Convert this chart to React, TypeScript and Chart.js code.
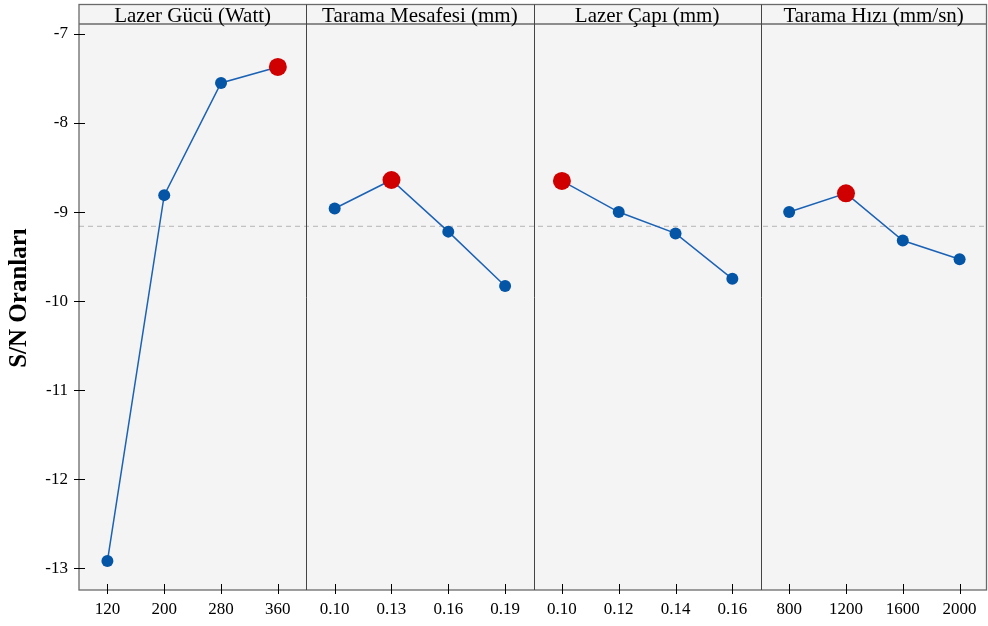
import React, { useEffect, useRef } from 'react';
import { Chart, registerables } from 'chart.js';

Chart.register(...registerables);

const panelTitles = ['Lazer Gücü (Watt)', 'Tarama Mesafesi (mm)', 'Lazer Çapı (mm)', 'Tarama Hızı (mm/sn)'];
const laserPowerLevels = ['120', '200', '280', '360'];
const scanDistanceLevels = ['0.10', '0.13', '0.16', '0.19'];
const laserDiameterLevels = ['0.10', '0.12', '0.14', '0.16'];
const scanSpeedLevels = ['800', '1200', '1600', '2000'];

const laserPowerSN = [-12.92, -8.81, -7.55, -7.37];
const scanDistanceSN = [-8.96, -8.64, -9.22, -9.83];
const laserDiameterSN = [-8.65, -9.0, -9.24, -9.75];
const scanSpeedSN = [-9.0, -8.79, -9.32, -9.53];

const overallMeanSN = -9.16;
const yMin = -13.245;
const yMax = -6.888;
const yAxisTitle = 'S/N Oranları';

const FONT = '"Liberation Serif", "Times New Roman", serif';

export default function App() {
  const ref = useRef<HTMLCanvasElement | null>(null);

  useEffect(() => {
    if (!ref.current) return;
    const levelGroups = [laserPowerLevels, scanDistanceLevels, laserDiameterLevels, scanSpeedLevels];
    const valueGroups = [laserPowerSN, scanDistanceSN, laserDiameterSN, scanSpeedSN];
    const labels = levelGroups.flat();
    const n = labels.length;

    const datasets = valueGroups.map((vals, p) => {
      const data: (number | null)[] = new Array(n).fill(null);
      vals.forEach((v, i) => (data[p * 4 + i] = v));
      const best = p * 4 + vals.indexOf(Math.max(...vals));
      return {
        label: panelTitles[p],
        data,
        borderColor: '#1b62b5',
        borderWidth: 1.5,
        spanGaps: false,
        clip: false as any,
        pointRadius: (c: any) => (c.dataIndex === best ? 9 : 6),
        pointHoverRadius: (c: any) => (c.dataIndex === best ? 9 : 6),
        pointBackgroundColor: (c: any) => (c.dataIndex === best ? '#d00000' : '#0455a5'),
        pointBorderColor: (c: any) => (c.dataIndex === best ? '#d00000' : '#0455a5'),
        pointBorderWidth: 0,
        tension: 0,
      };
    });

    const panelPlugin = {
      id: 'panels',
      beforeDatasetsDraw(chart: any) {
        const { ctx, chartArea: a, scales } = chart;
        const headerTop = 4.5;
        const frameRight = Math.min(a.right, chart.width - 1.5);
        ctx.save();
        ctx.fillStyle = '#f4f4f4';
        ctx.fillRect(a.left, headerTop, frameRight - a.left, a.bottom - headerTop);
        const ym = scales.y.getPixelForValue(overallMeanSN);
        ctx.strokeStyle = '#b4b4b4';
        ctx.lineWidth = 1;
        ctx.setLineDash([5, 4]);
        ctx.beginPath();
        ctx.moveTo(a.left, ym);
        ctx.lineTo(frameRight, ym);
        ctx.stroke();
        ctx.setLineDash([]);
        ctx.strokeStyle = '#6a6a6a';
        ctx.lineWidth = 1.3;
        ctx.strokeRect(a.left, headerTop, frameRight - a.left, a.bottom - headerTop);
        ctx.beginPath();
        ctx.moveTo(a.left, a.top);
        ctx.lineTo(frameRight, a.top);
        ctx.stroke();
        const w = (a.right - a.left) / 4;
        const edges = [a.left, a.left + w, a.left + 2 * w, a.left + 3 * w, frameRight];
        ctx.strokeStyle = '#444';
        ctx.lineWidth = 1;
        for (let p = 1; p < 4; p++) {
          const x = Math.round(edges[p]) + 0.5;
          ctx.beginPath();
          ctx.moveTo(x, headerTop);
          ctx.lineTo(x, a.bottom);
          ctx.stroke();
        }
        ctx.fillStyle = '#000';
        ctx.font = `21px ${FONT}`;
        ctx.textAlign = 'center';
        ctx.textBaseline = 'alphabetic';
        panelTitles.forEach((t, p) => {
          ctx.fillText(t, (edges[p] + edges[p + 1]) / 2, 22);
        });
        ctx.restore();
      },
      afterDraw(chart: any) {
        const { ctx, chartArea: a, scales } = chart;
        ctx.save();
        ctx.strokeStyle = '#000';
        ctx.lineWidth = 1;
        scales.y.ticks.forEach((t: any) => {
          const y = Math.round(scales.y.getPixelForValue(t.value)) + 0.5;
          ctx.beginPath();
          ctx.moveTo(a.left - 5, y);
          ctx.lineTo(a.left + 6, y);
          ctx.stroke();
        });
        for (let i = 0; i < n; i++) {
          const x = Math.round(scales.x.getPixelForValue(i)) + 0.5;
          ctx.beginPath();
          ctx.moveTo(x, a.bottom - 6);
          ctx.lineTo(x, a.bottom + 4);
          ctx.stroke();
        }
        ctx.translate(20, 298);
        ctx.rotate(-Math.PI / 2);
        ctx.fillStyle = '#000';
        ctx.font = `bold 25px ${FONT}`;
        ctx.textAlign = 'center';
        ctx.textBaseline = 'middle';
        ctx.fillText(yAxisTitle, 0, 0);
        ctx.restore();
      },
    };

    const chart = new Chart(ref.current, {
      type: 'line',
      data: { labels, datasets },
      options: {
        responsive: false,
        animation: false,
        layout: { autoPadding: false, padding: { top: 24, right: -2.5, left: 0, bottom: 0 } },
        plugins: { legend: { display: false }, tooltip: { enabled: false } },
        scales: {
          x: {
            type: 'category',
            offset: true,
            grid: { display: false },
            border: { display: false },
            ticks: {
              color: '#000',
              font: { family: FONT, size: 17 },
              padding: 1,
              maxRotation: 0,
              autoSkip: false,
            },
            afterFit: (s: any) => {
              s.height = 36;
              s.paddingLeft = 0;
              s.paddingRight = 0;
            },
          },
          y: {
            type: 'linear',
            min: yMin,
            max: yMax,
            grid: { display: false },
            border: { display: false },
            ticks: {
              stepSize: 1,
              includeBounds: false,
              color: '#000',
              font: { family: FONT, size: 17 },
              padding: 3,
            },
            afterFit: (s: any) => {
              s.width = 79;
              s.paddingTop = 0;
              s.paddingBottom = 0;
            },
          },
        },
      },
      plugins: [panelPlugin],
    });
    return () => chart.destroy();
  }, []);

  return (
    <canvas
      ref={ref}
      width={988}
      height={626}
      style={{ position: 'fixed', left: 0, top: 0, width: 988, height: 626, display: 'block' }}
    />
  );
}
